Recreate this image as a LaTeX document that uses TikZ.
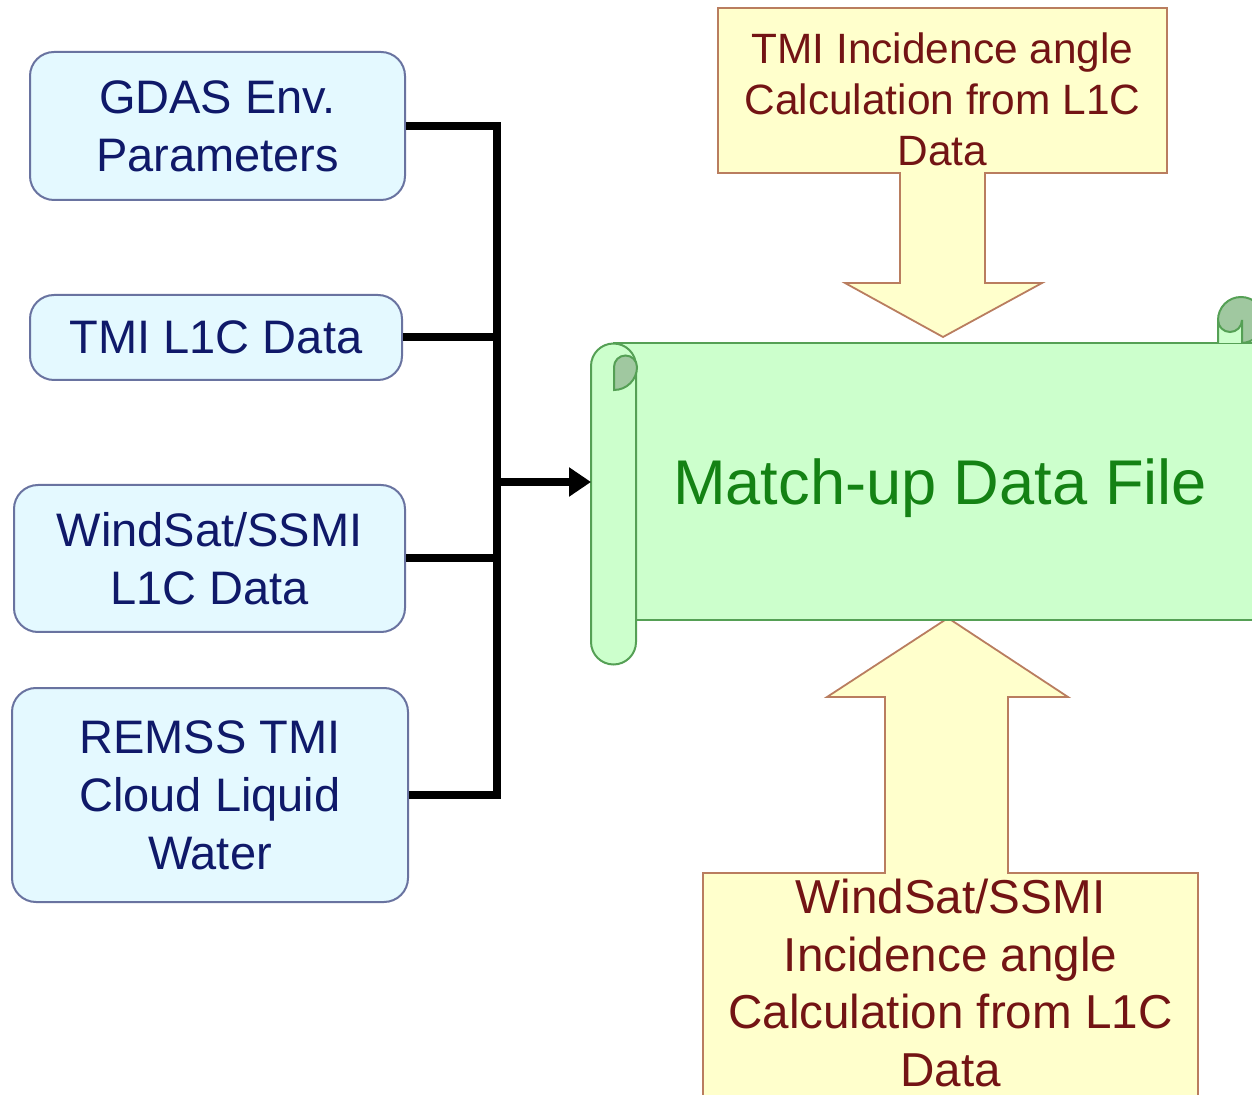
\documentclass[tikz,border=0pt]{standalone}
\usepackage{fontspec}
\setmainfont{Liberation Sans}
\usetikzlibrary{arrows.meta}
\definecolor{boxfill}{RGB}{228,249,255}
\definecolor{boxline}{RGB}{105,115,160}
\definecolor{boxtext}{RGB}{15,25,105}
\definecolor{scrfill}{RGB}{204,255,204}
\definecolor{scrline}{RGB}{85,160,85}
\definecolor{scrdark}{RGB}{160,200,160}
\definecolor{scrtext}{RGB}{20,130,20}
\definecolor{yfill}{RGB}{255,255,204}
\definecolor{yline}{RGB}{185,125,95}
\definecolor{ytext}{RGB}{115,20,20}
\tikzset{
  srcbox/.style={draw=boxline, fill=boxfill, line width=1pt, rounded corners=12pt,
    inner sep=0pt, align=center, text=boxtext,
    font=\fontsize{23.5}{29}\selectfont},
  conn/.style={line width=4pt, line join=miter, black},
  callout/.style={draw=yline, fill=yfill, line width=0.9pt, line join=miter},
  scroll/.style={draw=scrline, fill=scrfill, line width=1pt},
}
\begin{document}
\begin{tikzpicture}[x=0.5pt, y=-0.5pt]
\useasboundingbox (0,0) rectangle (1252,1095);
\clip (0,0) rectangle (1252,1095);

% ---- left source boxes
\node[srcbox, minimum width=187.5pt, minimum height=74pt] (gdas) at (217.5,126) {GDAS Env.\\Parameters};
\node[srcbox, minimum width=186pt, minimum height=42.5pt] (tmi) at (216,337.5) {TMI L1C Data};
\node[srcbox, minimum width=195.5pt, minimum height=73.5pt] (ws) at (209.5,558.5) {WindSat/SSMI\\L1C Data};
\node[srcbox, minimum width=198pt, minimum height=107pt] (remss) at (210,795) {REMSS TMI\\Cloud Liquid\\Water};

% ---- top callout (down arrow)
\draw[callout] (718,8) -- (1167,8) -- (1167,173) -- (985,173) -- (985,283) -- (1042,283)
  -- (943,337) -- (845,283) -- (900,283) -- (900,173) -- (718,173) -- cycle;
\node[align=center, text=ytext, font=\fontsize{21.2}{25.5}\selectfont] (tmiang) at (942.5,99)
  {TMI Incidence angle\\Calculation from L1C\\Data};

% ---- bottom callout (up arrow)
\draw[callout] (703,1110) -- (703,873) -- (885,873) -- (885,697) -- (827,697) -- (948,618)
  -- (1068,697) -- (1008,697) -- (1008,873) -- (1198,873) -- (1198,1110);
\node[align=center, inner sep=0pt, text=ytext, font=\fontsize{23.8}{28.75}\selectfont] (wsang) at (950.5,983)
  {WindSat/SSMI\\Incidence angle\\Calculation from L1C\\Data};

% ---- scroll
\draw[scroll] (614,343) rectangle (1290,620);
% top-right curl
\draw[scroll, fill=scrdark] (1241,320) circle (23);
\draw[scroll] (1218,343) -- (1218,320) arc (180:0:12) -- (1242,343);
% left tube
\draw[scroll] (591,366) -- (591,642) arc (180:0:22.5) -- (636,366) arc (0:-180:22.5) -- cycle;
\draw[scroll, fill=scrdark] (614,390) -- (614,367) arc (180:360:11.5) arc (0:90:23) -- cycle;
\node[text=scrtext, font=\fontsize{31.6}{36}\selectfont] (match) at (940,488) {Match-up Data File};
\coordinate (scrL) at (591,482);

% ---- connectors
\coordinate (bx) at (497,482);
\draw[conn] (gdas.east) -- (gdas.east -| bx) -- (remss.east -| bx) -- (remss.east);
\draw[conn] (tmi.east) -- (tmi.east -| bx);
\draw[conn] (ws.east) -- (ws.east -| bx);
\draw[conn, -{Triangle[length=11pt,width=14pt]}] (bx) -- (scrL);
\end{tikzpicture}
\end{document}
